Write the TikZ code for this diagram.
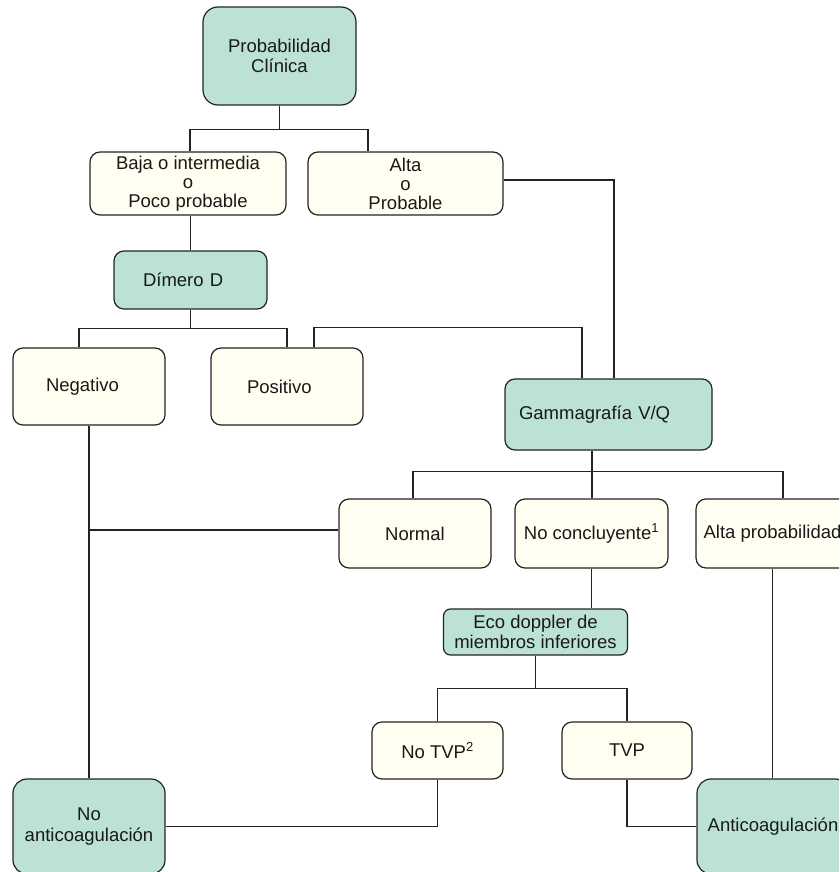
\documentclass[tikz,border=0pt]{standalone}
\usepackage{fontspec}
\setmainfont{Liberation Sans}
\definecolor{tealc}{RGB}{188,226,214}
\definecolor{creamc}{RGB}{255,254,240}
\definecolor{linec}{RGB}{35,35,35}
\definecolor{txtc}{RGB}{25,25,25}
\tikzset{
  box/.style={draw=linec, line width=1.2pt, rounded corners=10pt, inner sep=0pt,
    align=center, text=txtc, font=\fontsize{18.5}{20.5}\selectfont},
  tealbox/.style={box, fill=tealc},
  creambox/.style={box, fill=creamc},
  conn/.style={draw=linec, line width=1.2pt},
}
\begin{document}
\begin{tikzpicture}[x=1pt,y=-1pt]
\useasboundingbox (0,0) rectangle (839,872);
\clip (0,0) rectangle (839,872);
% nodes
\node[tealbox, rounded corners=15pt, minimum width=153pt, minimum height=98pt] (prob) at (279.5,56) {Probabilidad\\Clínica};
\node[creambox, font=\fontsize{18.5}{19}\selectfont, minimum width=196pt, minimum height=63pt] (baja) at (188,183.5) {Baja o intermedia\\o\\Poco probable};
\node[creambox, font=\fontsize{18.5}{19}\selectfont, minimum width=195pt, minimum height=63pt] (alta) at (405.5,183.5) {Alta\\o\\Probable};
\node[tealbox, minimum width=153pt, minimum height=58pt, align=left, text width=95pt, inner xsep=29pt] (dim) at (190.5,280) {Dímero D};
\node[creambox, minimum width=152pt, minimum height=77pt, align=left, text width=86pt, inner xsep=33pt] (neg) at (89,386.5) {Negativo};
\node[creambox, minimum width=152pt, minimum height=77pt, align=left, text width=80pt, inner xsep=36pt] (pos) at (287,386.5) {Positivo};
\node[tealbox, minimum width=207pt, minimum height=71pt, align=left, text width=179pt, inner xsep=14pt] (gam) at (608.5,414.5) {Gammagrafía V/Q};
\node[creambox, minimum width=152pt, minimum height=69pt] (nor) at (415,533.5) {Normal};
\node[creambox, minimum width=153pt, minimum height=69pt] (nco) at (591.5,533.5) {No concluyente\textsuperscript{1}};
\node[creambox, minimum width=153pt, minimum height=69pt] (apr) at (772.5,533.5) {Alta probabilidad};
\node[tealbox, rounded corners=7pt, minimum width=184pt, minimum height=46pt] (eco) at (535.5,632) {Eco doppler de\\miembros inferiores};
\node[creambox, minimum width=131pt, minimum height=57pt] (ntv) at (437.5,750.5) {No TVP\textsuperscript{2}};
\node[creambox, minimum width=130pt, minimum height=57pt] (tvp) at (627,750.5) {TVP};
\node[tealbox, rounded corners=14pt, minimum width=152pt, minimum height=95pt] (nan) at (89,826.5) {No\\anticoagulación};
\node[tealbox, rounded corners=14pt, minimum width=152pt, minimum height=95pt] (ant) at (773,826.5) {Anticoagulación};
% connectors
\draw[conn] (prob.south) -- ++(0,24) coordinate (j1);
\draw[conn] ([xshift=2pt]baja.north) |- (j1) -| ([xshift=-37.5pt]alta.north);
\draw[conn] ([yshift=3.5pt]alta.east) -| ([xshift=5.5pt]gam.north);
\draw[conn] (dim.north) -- (dim.north |- baja.south);
\draw[conn] (dim.south) -- ++(0,19) coordinate (j2);
\draw[conn] ([xshift=-10pt]neg.north) |- (j2) -| (pos.north);
\draw[conn] ([xshift=27pt]pos.north) -- ++(0,-20) -| ([xshift=-26.5pt]gam.north);
\draw[conn] ([xshift=-16.5pt]gam.south) -- ++(0,21) coordinate (j3);
\draw[conn] ([xshift=-2pt]nor.north) |- (j3) -| ([xshift=10.5pt]apr.north);
\draw[conn] (j3) -- (j3 |- nco.north);
\draw[conn] (neg.south) -- (nan.north);
\draw[conn] ([yshift=3.5pt]nor.west) -- ([yshift=3.5pt]nor.west -| neg.south);
\draw[conn] (nco.south) -- (nco.south |- eco.north);
\draw[conn] (eco.south) -- ++(0,33) coordinate (j4);
\draw[conn] (ntv.north) |- (j4) -| (tvp.north);
\draw[conn] (ntv.south) |- (nan.east);
\draw[conn] (tvp.south) |- (ant.west);
\draw[conn] (apr.south) -- (apr.south |- ant.north);
\end{tikzpicture}
\end{document}
